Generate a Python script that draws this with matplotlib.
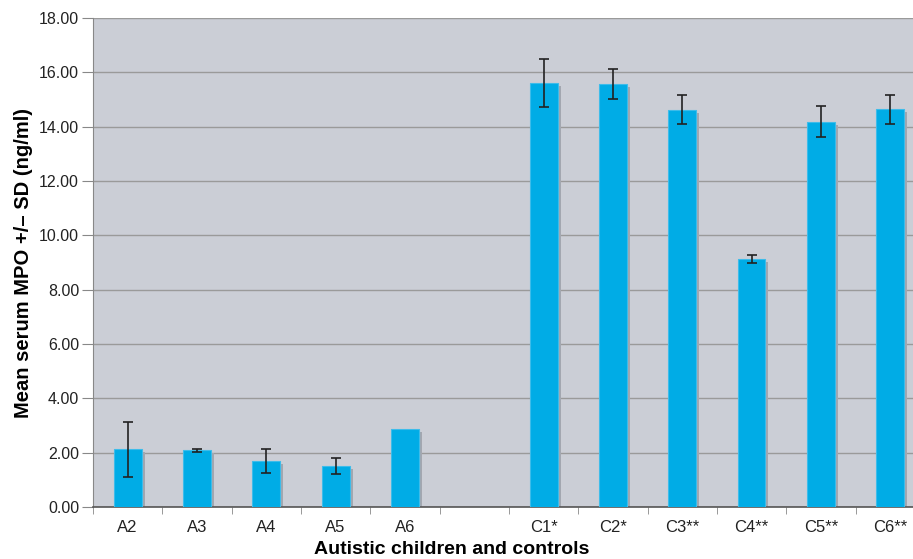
import numpy as np
import matplotlib
matplotlib.use("Agg")
import matplotlib.pyplot as plt
import matplotlib.transforms as mtransforms

plt.rcParams['font.family'] = ['Liberation Sans', 'DejaVu Sans']

# Data
groups = ['A2', 'A3', 'A4', 'A5', 'A6', '', 'C1*', 'C2*', 'C3**', 'C4**', 'C5**', 'C6**']
means = [2.12, 2.08, 1.69, 1.52, 2.86, np.nan, 15.61, 15.57, 14.62, 9.12, 14.18, 14.64]
sds = [1.02, 0.06, 0.45, 0.29, np.nan, np.nan, 0.89, 0.55, 0.53, 0.15, 0.57, 0.53]
yticks = [0, 2, 4, 6, 8, 10, 12, 14, 16, 18]

fig = plt.figure(figsize=(9.13, 5.59), dpi=100)
ax = fig.add_axes([93 / 913, 1 - 507 / 559, 820 / 913, 489 / 559])
ax.set_facecolor('#cbced6')

x = np.arange(len(groups))
bw = 0.40

# shadow behind bars (shifted right/down a few pixels)
shadow = mtransforms.offset_copy(ax.transData, fig=fig, x=3, y=-3, units='dots')
ax.bar(x, means, width=bw, color='#a3a7b0', transform=shadow, zorder=2)
ax.bar(x, means, width=bw, color='#00ace6', edgecolor='#3dbcea', linewidth=0.8, zorder=3)
ax.errorbar(x, means, yerr=sds, fmt='none', ecolor='#222222', elinewidth=1.2,
            capsize=3.3, capthick=1.2, zorder=4)

ax.set_yticks(yticks)
ax.set_yticklabels([f'{v:.2f}' for v in yticks])
ax.yaxis.grid(True, color='#9a9a9a', linewidth=1.0)
ax.set_axisbelow(True)

ax.set_xticks(x)
ax.set_xticklabels(groups)
ax.set_xticks(np.arange(len(groups) + 1) - 0.5, minor=True)
# limits after ticks so the minor ticks don't widen the view
ax.set_ylim(0, 18)
ax.set_xlim(-0.5, (913 - 128) / 69.3)

ax.tick_params(axis='x', which='major', length=0, pad=9, labelsize=12, colors='#222222')
ax.tick_params(axis='x', which='minor', length=5, color='#888888')
ax.tick_params(axis='y', length=8, color='#888888', labelsize=11.5, labelcolor='#222222', pad=2)

for side in ['top', 'right']:
    ax.spines[side].set_visible(False)
ax.spines['left'].set_color('#888888')
ax.spines['bottom'].set_color('#555555')
ax.spines['bottom'].set_linewidth(1.2)

ax.set_ylabel('Mean serum MPO +/– SD (ng/ml)', fontsize=14.5, fontweight='bold', labelpad=4)
ax.set_xlabel('Autistic children and controls', fontsize=14, fontweight='bold')
ax.xaxis.set_label_coords((452 - 93) / 820, -(541 - 507) / 489, transform=ax.transAxes)
ax.xaxis.label.set_va('top')

fig.savefig('out.png', dpi=100)
